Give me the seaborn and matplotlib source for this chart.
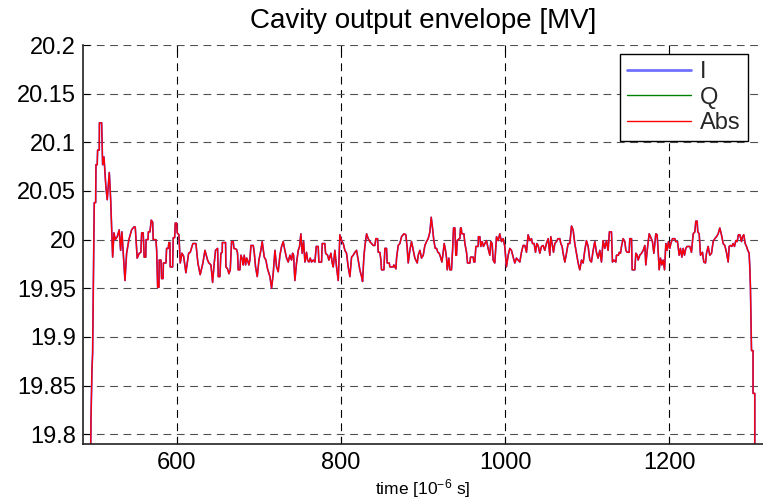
import numpy as np
import pandas as pd
import matplotlib
matplotlib.use("Agg")
import matplotlib.pyplot as plt
import seaborn as sns

# ---------------------------
# Data (time in us, envelope in MV)
# ---------------------------
time_us = [
    494.5, 495.7, 496.9, 497.7, 498.5, 499.7, 501.4, 501.8, 503.3, 503.8,
    505.8, 506.0, 508.7, 509.9, 511.5, 513.9, 515.5, 518.0, 519.7, 522.1,
    523.7, 525.3, 527.7, 530.1, 531.8, 533.4, 537.1, 539.1, 541.9, 545.2,
    548.0, 549.6, 552.0, 554.5, 556.5, 557.4, 559.3, 560.5, 562.4, 562.8,
    565.2, 565.6, 567.5, 569.1, 570.8, 571.5, 574.8, 575.7, 576.9, 578.5,
    578.8, 580.9, 581.7, 583.5, 583.9, 587.0, 587.8, 589.8, 590.6, 591.8,
    592.2, 595.1, 595.9, 597.6, 598.3, 600.0, 600.7, 602.8, 604.4, 606.5,
    608.5, 611.3, 614.6, 616.6, 619.8, 623.5, 625.9, 628.7, 632.0,
    634.5, 637.7, 639.3, 641.8, 643.8, 645.8, 647.4, 649.9, 650.7, 652.7,
    653.9, 655.5, 655.7, 659.6, 660.0, 662.0, 663.7, 665.3, 666.9, 668.9,
    669.8, 673.0, 674.2, 675.0, 677.0, 678.3, 680.3, 681.1, 682.3, 684.0,
    685.2, 686.4, 688.0, 689.2, 690.5, 693.3, 694.5, 696.1, 698.2, 700.2,
    702.6, 704.2, 706.7, 708.7, 710.7, 713.6, 715.6, 717.6, 719.7, 721.7,
    723.7, 725.8, 727.8, 729.8, 731.8, 733.9, 735.9, 737.9, 739.9, 741.2,
    742.4, 744.0, 746.0, 748.1, 749.7, 751.3, 752.9, 754.6, 756.2, 758.2,
    759.4, 761.1, 762.7, 764.3, 766.3, 768.4, 770.0, 772.4, 773.2, 776.5,
    777.3, 780.5, 781.4, 783.8, 785.4, 787.8, 789.5, 790.7, 792.7, 794.7,
    796.8, 798.8, 800.8, 802.9,
    804.9, 806.9, 808.9, 811.0, 813.0, 815.0, 817.1, 819.1, 821.1, 823.1,
    825.2, 826.4, 828.0, 829.2, 831.3, 833.3, 835.3, 837.3, 839.4, 841.4,
    842.6, 844.7, 845.5, 847.5, 848.7, 849.5, 852.4, 853.6, 855.6, 856.4,
    858.9, 859.7, 863.7, 864.5, 867.0, 867.8, 869.8, 871.8, 873.9, 876.7,
    879.1, 880.8, 882.0, 884.0, 886.0, 888.1, 890.1, 891.3, 893.0, 894.2,
    896.2, 898.2, 900.3, 902.3, 904.3, 906.3, 908.4, 910.0, 911.6, 913.2,
    914.9, 916.5, 918.1, 919.7, 921.4, 923.0, 924.6, 925.8, 927.4, 928.7,
    929.5, 931.5, 932.7, 934.7, 936.0, 937.2, 938.8, 940.0, 940.8, 941.6,
    944.1, 944.9, 945.7, 946.5, 947.3, 949.8, 951.0, 953.0, 954.2, 957.1,
    957.9, 961.1, 961.9, 963.1, 964.4, 967.2,
    967.5, 969.2, 970.4, 972.0, 973.6, 975.3, 977.3, 979.3, 981.4, 982.6,
    984.2, 985.4, 987.4, 989.5, 991.5, 993.5, 995.6, 997.6, 999.6, 1001.6,
    1003.7, 1005.7, 1007.7, 1009.8, 1011.8, 1013.8, 1015.9, 1017.9, 1019.9, 1021.9,
    1024.0, 1026.0, 1028.0, 1030.1, 1032.1, 1033.3, 1035.3, 1037.0, 1038.6, 1040.2,
    1042.2, 1044.3, 1046.3, 1048.3, 1050.3, 1052.4, 1054.4, 1055.6, 1057.2, 1058.9,
    1060.5, 1062.5, 1064.5, 1066.6, 1067.8, 1069.4, 1070.6, 1072.7, 1074.7, 1076.7,
    1078.8, 1080.8, 1082.8, 1084.8, 1086.9, 1088.9, 1090.9, 1093.0, 1095.0, 1097.0,
    1099.0, 1101.1, 1103.1, 1105.1, 1107.2, 1109.2, 1111.2, 1113.2, 1115.3, 1117.3,
    1119.3, 1121.4, 1123.4, 1125.4, 1127.0, 1129.5, 1130.7,
    1132.4, 1134.8, 1135.6, 1138.0, 1138.9, 1140.5, 1141.7, 1143.7, 1145.8, 1147.0,
    1148.6, 1151.0, 1151.8, 1153.9, 1154.7, 1157.9, 1159.2, 1160.8, 1162.0, 1164.0,
    1166.1, 1168.1, 1170.1, 1171.3, 1173.0, 1175.4, 1177.0, 1179.4, 1181.1, 1183.5,
    1185.1, 1186.3, 1187.6, 1189.2, 1190.8, 1192.4, 1194.1, 1195.7, 1197.3, 1198.9,
    1200.5, 1201.8, 1203.8, 1206.6, 1207.8, 1209.9, 1211.9, 1213.5, 1215.2, 1216.8,
    1218.4, 1220.0, 1221.6, 1224.9, 1226.9, 1229.0, 1231.0, 1232.2, 1233.8, 1234.6,
    1236.3, 1237.9, 1240.3, 1241.9, 1244.0, 1245.2, 1247.2, 1249.2, 1251.3, 1253.3,
    1255.3, 1257.4, 1259.4, 1261.4, 1263.4, 1265.5, 1267.5, 1269.5, 1271.6, 1272.8,
    1274.4, 1276.0, 1277.6, 1279.3, 1280.9, 1282.5, 1284.1, 1285.8, 1287.8, 1289.0,
    1290.6, 1292.3, 1293.9, 1295.5, 1297.1, 1297.9, 1298.7, 1300.0, 1301.9, 1301.9,
    1304.0, 1304.0,
]

abs_mv = [
    19.700, 19.814, 19.866, 19.883, 19.945, 20.038, 20.038, 20.077, 20.077, 20.092,
    20.092, 20.120, 20.120, 20.077, 20.085, 20.054, 20.041, 20.069, 20.041, 19.982,
    20.007, 20.000, 20.003, 20.010, 19.989, 20.008, 19.958, 19.986, 20.000, 20.010,
    20.013, 20.013, 19.981, 19.986, 19.987, 20.007, 20.007, 19.982, 19.982, 20.000,
    20.000, 20.008, 20.008, 20.020, 20.018, 20.000, 20.000, 19.989, 19.951, 19.951,
    19.979, 19.979, 19.960, 19.960, 19.976, 19.976, 19.991, 19.991, 19.997, 19.997,
    19.972, 19.972, 20.002, 20.002, 20.017, 20.017, 20.007, 20.005, 19.976, 19.986,
    19.983, 19.966, 19.986, 19.987, 19.996, 19.996, 19.976, 19.964, 19.976,
    19.989, 19.979, 19.976, 19.974, 19.956, 19.976, 19.989, 19.991, 19.962, 19.962,
    19.986, 19.987, 19.997, 19.997, 19.972, 19.970, 19.965, 19.969, 19.998, 19.998,
    19.991, 19.990, 19.986, 19.969, 19.969, 19.984, 19.979, 19.974, 19.984, 19.974,
    19.981, 19.979, 19.974, 19.979, 19.994, 19.994, 19.987, 19.972, 19.962, 19.979,
    19.989, 19.998, 19.982, 19.979, 19.970, 19.962, 19.950, 19.965, 19.989, 19.972,
    19.967, 19.984, 19.993, 19.998, 19.989, 19.981, 19.977, 19.984, 19.979, 19.986,
    19.984, 19.958, 19.976, 19.989, 19.993, 20.006, 19.986, 19.998, 19.977, 19.987,
    19.979, 19.977, 19.981, 19.977, 19.979, 19.977, 19.993, 19.993, 19.977, 19.977,
    19.996, 19.996, 19.986, 19.984, 19.979, 19.986, 19.976, 19.972, 19.989, 19.972,
    19.958, 20.005, 19.999, 19.996,
    19.989, 19.986, 19.972, 19.962, 19.982, 19.984, 19.987, 19.989, 19.979, 19.969,
    19.962, 19.957, 19.982, 19.993, 20.006, 20.001, 19.998, 19.996, 19.994, 19.994,
    20.001, 20.001, 19.987, 19.987, 19.979, 19.969, 19.969, 19.991, 19.991, 19.976,
    19.976, 19.972, 19.972, 19.974, 19.970, 19.981, 19.994, 19.996, 20.003, 20.006,
    20.005, 19.991, 19.976, 19.989, 19.998, 19.989, 19.981, 19.979, 19.976, 19.984,
    19.989, 19.981, 19.984, 19.994, 19.998, 20.001, 20.008, 20.023, 20.012, 19.999,
    19.991, 19.991, 19.987, 19.986, 19.982, 19.977, 19.987, 19.996, 19.989, 19.981,
    19.969, 19.981, 19.969, 19.969, 19.989, 20.012, 20.012, 19.984, 19.984, 19.999,
    20.001, 20.001, 20.012, 20.012, 20.006, 20.006, 19.996, 19.987, 19.976, 19.976,
    19.982, 19.982, 19.977, 19.977, 19.993, 19.993,
    20.003, 20.003, 19.993, 19.998, 19.993, 19.996, 19.999, 19.991, 19.984, 19.998,
    19.996, 19.979, 19.976, 20.003, 19.999, 20.006, 19.998, 20.001, 19.993, 19.972,
    19.984, 19.991, 19.989, 19.982, 19.976, 19.981, 19.979, 19.977, 19.987, 19.994,
    19.994, 19.987, 20.005, 19.999, 20.001, 19.996, 19.996, 19.987, 19.996, 19.994,
    19.986, 19.993, 19.994, 19.989, 19.996, 20.001, 19.984, 20.003, 19.996, 19.987,
    19.996, 19.998, 20.001, 20.001, 19.996, 19.993, 19.986, 19.977, 19.986, 19.996,
    19.996, 20.014, 20.010, 19.996, 19.986, 19.976, 19.969, 19.979, 19.976, 19.989,
    19.999, 19.993, 19.979, 19.977, 19.989, 19.998, 19.987, 19.981, 19.989, 19.977,
    19.999, 19.991, 19.999, 19.989, 20.008, 20.008, 19.977,
    19.979, 19.977, 19.984, 19.984, 19.987, 19.986, 19.993, 20.001, 19.998, 19.989,
    19.987, 19.987, 20.001, 20.001, 19.969, 19.969, 19.986, 19.984, 19.979, 19.984,
    19.986, 19.989, 19.994, 19.974, 19.989, 20.006, 20.003, 19.998, 19.986, 20.006,
    20.005, 19.989, 19.969, 19.981, 19.974, 19.979, 19.969, 19.996, 19.989, 19.998,
    19.991, 19.996, 20.001, 20.001, 19.998, 19.998, 19.984, 19.991, 19.982, 19.991,
    19.984, 19.991, 19.993, 19.993, 19.987, 20.006, 20.008, 20.019, 20.019, 20.008,
    20.006, 19.984, 19.987, 19.977, 19.976, 19.986, 19.993, 19.984, 19.986, 19.998,
    20.001, 20.003, 20.006, 20.012, 20.005, 19.996, 19.994, 19.987, 19.977, 19.993,
    19.994, 19.993, 19.996, 19.993, 19.999, 19.998, 20.005, 20.005, 19.998, 20.003,
    20.005, 19.996, 19.993, 19.989, 19.986, 19.972, 19.951, 19.886, 19.886, 19.842,
    19.842, 19.700,
]

# I component coincides with Abs on this scale; Q sits near zero (off scale)
i_mv = abs_mv
q_time_us = [494.5, 1304.0]
q_mv = [0.0, 0.0]

y_ticks = [19.8, 19.85, 19.9, 19.95, 20.0, 20.05, 20.1, 20.15, 20.2]
y_tick_labels = ["19.8", "19.85", "19.9", "19.95", "20", "20.05", "20.1", "20.15", "20.2"]
x_ticks = [600, 800, 1000, 1200]

# ---------------------------
# Style
# ---------------------------
sns.set_theme(style="white")
plt.rcParams["font.family"] = ["Liberation Sans", "DejaVu Sans"]
plt.rcParams["mathtext.default"] = "regular"

fig = plt.figure(figsize=(7.63, 5.0), dpi=100)
ax = fig.add_axes([83 / 763, 56 / 500, 680 / 763, 399 / 500])

sns.lineplot(x=time_us, y=i_mv, ax=ax, color="#4040ff", lw=1.2,
             sort=False, estimator=None, label="I")
sns.lineplot(x=q_time_us, y=q_mv, ax=ax, color="#008000", lw=1.0,
             sort=False, estimator=None, label="Q")
sns.lineplot(x=time_us, y=abs_mv, ax=ax, color="#ff0000", lw=1.0,
             sort=False, estimator=None, label="Abs")

ax.set_xlim(486, 1314)
ax.set_ylim(19.79, 20.2)
ax.set_xticks(x_ticks)
ax.set_yticks(y_ticks)
ax.set_yticklabels(y_tick_labels)

ax.grid(True, axis="x", color="black", lw=0.8, ls=(0, (7, 5)))
ax.grid(True, axis="y", color="#505050", lw=0.8, ls=(0, (7, 5)))

for side in ["top", "right"]:
    ax.spines[side].set_visible(False)
for side in ["left", "bottom"]:
    ax.spines[side].set_color("#222222")
    ax.spines[side].set_linewidth(1.2)

ax.tick_params(axis="both", direction="in", length=5, width=0.8, color="black",
               labelsize=17, labelcolor="black", top=True, bottom=True, left=True)
ax.tick_params(axis="x", pad=6)
ax.tick_params(axis="y", pad=5)

ax.set_title("Cavity output envelope [MV]", fontsize=20, pad=12, color="black")
ax.set_xlabel("time [10$^{-6}$ s]", fontsize=12.5, labelpad=2, color="black")
ax.set_ylabel("")

leg = ax.legend(loc="upper right", bbox_to_anchor=(748 / 763, 1 - 54 / 500),
                bbox_transform=fig.transFigure, borderaxespad=0, fontsize=17,
                frameon=True, fancybox=False, edgecolor="black", framealpha=1,
                handlelength=2.7, handletextpad=0.4, labelspacing=0.15,
                borderpad=0.3)
leg.get_frame().set_linewidth(1.0)
handles = leg.legend_handles
handles[0].set_color("#7070ff")
handles[0].set_linewidth(2.0)

fig.savefig("out.png", dpi=100)
